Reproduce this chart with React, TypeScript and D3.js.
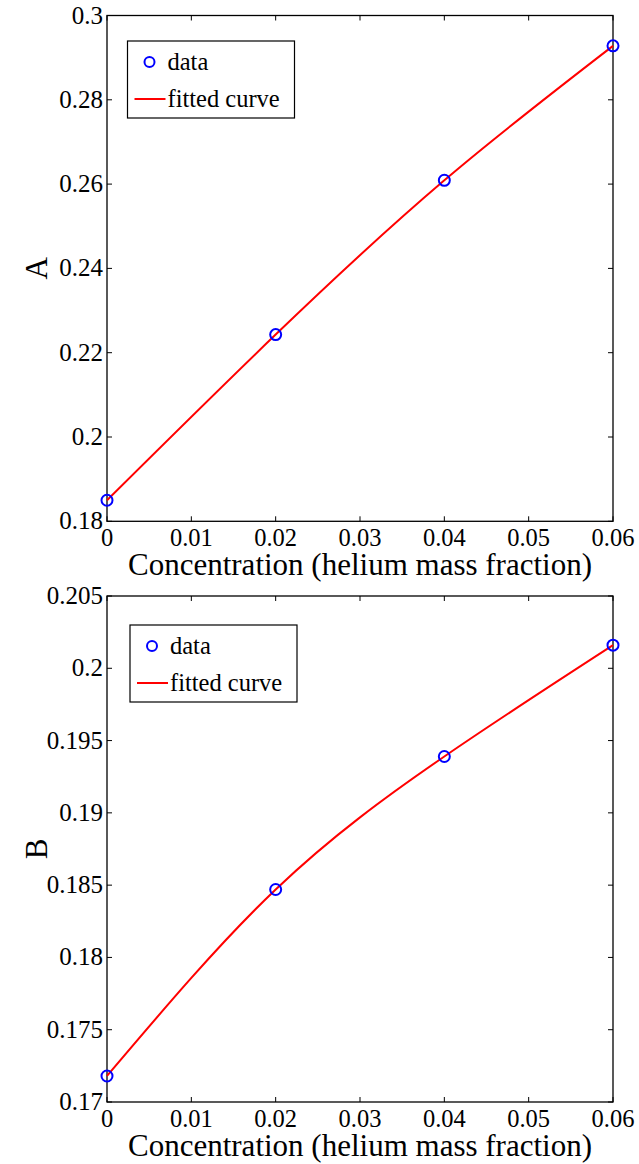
import React from "react";
import * as d3 from "d3";

const concentration = [0, 0.02, 0.04, 0.06];
const valuesA = [0.185, 0.2243, 0.2609, 0.2928];
const valuesB = [0.1718, 0.1847, 0.1939, 0.2016];
const xTicks = [0, 0.01, 0.02, 0.03, 0.04, 0.05, 0.06];
const yTicksA = [0.18, 0.2, 0.22, 0.24, 0.26, 0.28, 0.3];
const yTicksB = [0.17, 0.175, 0.18, 0.185, 0.19, 0.195, 0.2, 0.205];
const legendLabels = ["data", "fitted curve"];
const xLabel = "Concentration (helium mass fraction)";

const FONT = "Liberation Serif, Times New Roman, serif";

function Panel({ top, bottom, values, yTicks, yDomain, yLabel, legendX, legendY, fmt }) {
  const left = 107, right = 613;
  const x = d3.scaleLinear().domain([0, 0.06]).range([left, right]);
  const y = d3.scaleLinear().domain(yDomain).range([bottom, top]);
  const pts = concentration.map((c, i) => [x(c), y(values[i])] as [number, number]);
  const line = d3.line().curve(d3.curveNatural)(pts);
  const tl = 5;
  return (
    <g>
      <rect x={left} y={top} width={right - left} height={bottom - top} fill="white" stroke="black" strokeWidth={1.3} />
      {xTicks.map((t) => (
        <g key={"x" + t}>
          <line x1={x(t)} x2={x(t)} y1={bottom} y2={bottom - tl} stroke="black" />
          <line x1={x(t)} x2={x(t)} y1={top} y2={top + tl} stroke="black" />
          <text x={x(t)} y={bottom + 25} textAnchor="middle" fontSize={24.5} fontFamily={FONT}>
            {d3.format("")(t)}
          </text>
        </g>
      ))}
      {yTicks.map((t) => (
        <g key={"y" + t}>
          <line x1={left} x2={left + tl} y1={y(t)} y2={y(t)} stroke="black" />
          <line x1={right} x2={right - tl} y1={y(t)} y2={y(t)} stroke="black" />
          <text x={left - 4} y={y(t) + 8} textAnchor="end" fontSize={25} fontFamily={FONT}>
            {fmt(t)}
          </text>
        </g>
      ))}
      <path d={line || ""} fill="none" stroke="#ff0000" strokeWidth={2} />
      {pts.map((p, i) => (
        <circle key={i} cx={p[0]} cy={p[1]} r={5.5} fill="none" stroke="#0000ff" strokeWidth={2} />
      ))}
      <text x={(left + right) / 2} y={bottom + 54} textAnchor="middle" fontSize={31} fontFamily={FONT}>
        {xLabel}
      </text>
      <text transform={`translate(47,${(top + bottom) / 2}) rotate(-90)`} textAnchor="middle" fontSize={31} fontFamily={FONT}>
        {yLabel}
      </text>
      <g transform={`translate(${legendX},${legendY})`}>
        <rect x={0} y={0} width={167} height={77} fill="white" stroke="black" strokeWidth={1.2} />
        <circle cx={22} cy={21} r={5} fill="none" stroke="#0000ff" strokeWidth={2} />
        <text x={40} y={29} fontSize={24.5} fontFamily={FONT}>{legendLabels[0]}</text>
        <line x1={7} x2={38} y1={58} y2={58} stroke="#ff0000" strokeWidth={2} />
        <text x={40} y={66} fontSize={24.5} fontFamily={FONT}>{legendLabels[1]}</text>
      </g>
    </g>
  );
}

export default function App() {
  const fmtA = (t: number) => d3.format("")(+t.toFixed(2));
  const fmtB = (t: number) => d3.format("")(+t.toFixed(3));
  return (
    <svg width={639} height={1164} style={{ position: "absolute", left: 0, top: 0 }}>
      <rect width={639} height={1164} fill="white" />
      <Panel top={15.5} bottom={521.3} values={valuesA} yTicks={yTicksA} yDomain={[0.18, 0.3]} yLabel="A" legendX={127.5} legendY={41} fmt={fmtA} />
      <Panel top={596} bottom={1102} values={valuesB} yTicks={yTicksB} yDomain={[0.17, 0.205]} yLabel="B" legendX={130} legendY={625} fmt={fmtB} />
    </svg>
  );
}
